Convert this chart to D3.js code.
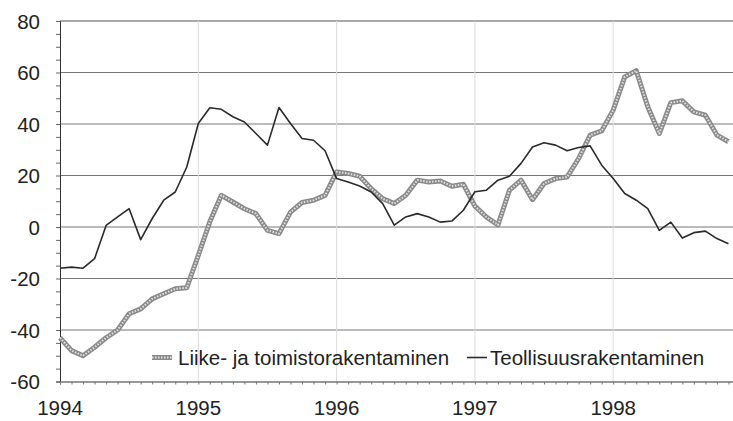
<!DOCTYPE html>
<html lang="fi">
<head>
<meta charset="UTF-8">
<title>Rakentaminen</title>
<script src="https://d3js.org/d3.v7.min.js"></script>
<style>
  body { margin: 0; background: #fff; }
  svg text {
    font-family: "Liberation Sans", Arial, sans-serif;
    font-size: 20.5px;
    fill: #222;
  }
</style>
</head>
<body>
<div id="chart"></div>
<script>
// kuukausittaiset arvot, tammikuu 1994 - marraskuu 1998
const startYear = 1994;
const yearTicks = [1994, 1995, 1996, 1997, 1998];
const yTicks = [-60, -40, -20, 0, 20, 40, 60, 80];
const seriesNames = ["Liike- ja toimistorakentaminen", "Teollisuusrakentaminen"];

const liike = [
  -43, -48, -50, -46.7, -43, -40, -33.7, -31.8, -27.9, -25.9, -24, -23.6,
  -11, 2, 12.3, 9.7, 7.1, 5.2, -1.3, -2.6, 5.8, 9.5, 10.4, 12.3,
  21.4, 20.8, 19.7, 14.9, 11, 9.1, 12.3, 18.2, 17.5, 17.9, 15.8, 16.6,
  8.1, 3.9, 0.8, 14.3, 18.2, 10.6, 16.9, 18.8, 19.4, 26.6, 35.7, 37.3,
  45.4, 58.3, 60.7, 46.7, 36.3, 48.3, 49, 44.7, 43.4, 35.7, 33.1
];
const teollisuus = [
  -16, -15.6, -16, -12.3, 0.6, 3.9, 7.1, -4.9, 3.3, 10.4, 13.6, 23.3,
  40.2, 46.3, 45.7, 42.8, 40.8, 36.3, 31.8, 46.4, 40.2, 34.4, 33.7, 29.6,
  18.8, 17.5, 15.9, 13.6, 9.1, 0.7, 3.9, 5.2, 3.9, 1.9, 2.3, 6.5,
  13.7, 14.3, 18.2, 19.7, 24.7, 31.1, 32.7, 31.8, 29.6, 30.9, 31.5, 24,
  18.8, 13, 10.4, 7.1, -1.3, 1.9, -4.3, -2.2, -1.6, -4.5, -6.5
];

const W = 733, H = 421;
const margin = {top: 21, right: 0, bottom: 39.5, left: 60};
const pxPerYear = 138.3;

const svg = d3.select("#chart").append("svg")
  .attr("width", W)
  .attr("height", H);

const x = d3.scaleLinear()
  .domain([startYear, startYear + (W - margin.left) / pxPerYear])
  .range([margin.left, W - margin.right]);
const y = d3.scaleLinear()
  .domain([-60, 80])
  .range([H - margin.bottom, margin.top]);

const t = i => startYear + i / 12;

// vaakasuorat apuviivat
svg.append("g")
  .selectAll("line")
  .data(yTicks.filter(d => d !== -60))
  .join("line")
  .attr("x1", margin.left).attr("x2", W)
  .attr("y1", d => y(d)).attr("y2", d => y(d))
  .attr("stroke", d => d === 80 ? "#555" : "#777")
  .attr("stroke-width", 1);

// pystysuorat apuviivat vuosien kohdalla
svg.append("g")
  .selectAll("line")
  .data(yearTicks.slice(1))
  .join("line")
  .attr("x1", d => x(d)).attr("x2", d => x(d))
  .attr("y1", y(80)).attr("y2", y(-60))
  .attr("stroke", "#dcdcdc")
  .attr("stroke-width", 1);

// y-akseli
const yAxis = svg.append("g")
  .attr("transform", `translate(${margin.left},0)`)
  .call(d3.axisLeft(y).tickValues(d3.range(-60, 81, 5)).tickSize(4).tickFormat(""));
yAxis.select(".domain").attr("stroke", "#333");
yAxis.selectAll(".tick line").attr("stroke", "#666");

svg.append("g")
  .selectAll("text")
  .data(yTicks)
  .join("text")
  .attr("x", 40)
  .attr("y", d => y(d) + 7.5)
  .attr("text-anchor", "end")
  .text(d => d);

// x-akseli
const months = d3.range(0, Math.floor((W - margin.left) / pxPerYear * 12) + 1).map(t);
const xAxis = svg.append("g")
  .attr("transform", `translate(0,${y(-60)})`)
  .call(d3.axisBottom(x).tickValues(months).tickSize(3).tickFormat(""));
xAxis.select(".domain").attr("stroke", "#333");
xAxis.selectAll(".tick line").attr("stroke", "#777");

svg.append("g")
  .selectAll("text")
  .data(yearTicks)
  .join("text")
  .attr("x", d => x(d))
  .attr("y", 415)
  .attr("text-anchor", "middle")
  .text(d => d);

// viivat
const line = d3.line()
  .x((d, i) => x(t(i)))
  .y(d => y(d));

svg.append("path")
  .datum(liike)
  .attr("d", line)
  .attr("fill", "none")
  .attr("stroke", "#8a8a8a")
  .attr("stroke-width", 5)
  .attr("stroke-linejoin", "round");
svg.append("path")
  .datum(liike)
  .attr("d", line)
  .attr("fill", "none")
  .attr("stroke", "#e2e2e2")
  .attr("stroke-width", 2)
  .attr("stroke-dasharray", "1.5,1.5")
  .attr("stroke-linejoin", "round");

svg.append("path")
  .datum(teollisuus)
  .attr("d", line)
  .attr("fill", "none")
  .attr("stroke", "#2a2a2a")
  .attr("stroke-width", 1.6)
  .attr("stroke-linejoin", "round");

// selite
const legY = 357.5;
svg.append("line")
  .attr("x1", 152).attr("x2", 172).attr("y1", legY).attr("y2", legY)
  .attr("stroke", "#8a8a8a").attr("stroke-width", 5);
svg.append("line")
  .attr("x1", 152).attr("x2", 172).attr("y1", legY).attr("y2", legY)
  .attr("stroke", "#e2e2e2").attr("stroke-width", 2).attr("stroke-dasharray", "1.5,1.5");
svg.append("text")
  .attr("x", 178).attr("y", 364.5)
  .text(seriesNames[0]);

svg.append("line")
  .attr("x1", 467).attr("x2", 487).attr("y1", legY).attr("y2", legY)
  .attr("stroke", "#2a2a2a").attr("stroke-width", 1.6);
svg.append("text")
  .attr("x", 490).attr("y", 364.5)
  .text(seriesNames[1]);
</script>
</body>
</html>
